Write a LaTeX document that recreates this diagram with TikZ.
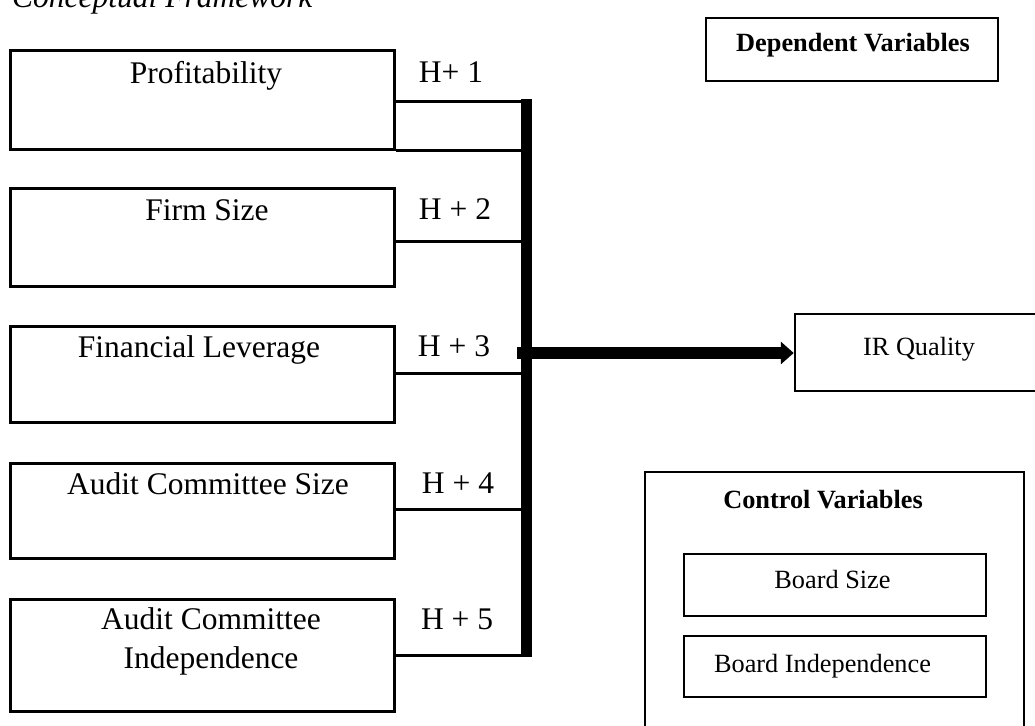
\documentclass[tikz,border=0pt]{standalone}
\usepackage{fontspec}
\setmainfont{Liberation Serif}
\usetikzlibrary{arrows.meta}
\begin{document}
\begin{tikzpicture}[x=1pt,y=-1pt,
  bigtxt/.style={inner sep=0pt, anchor=base, font=\fontsize{31.5}{39}\selectfont},
  smalltxt/.style={inner sep=0pt, anchor=base, font=\fontsize{26.3}{32}\selectfont},
  boldtxt/.style={smalltxt, font=\fontsize{26.3}{32}\selectfont\bfseries},
  varbox/.style={draw, line width=3pt, inner sep=0pt, minimum width=384pt},
  sidebox/.style={draw, line width=2.5pt, inner sep=0pt},
  link/.style={line width=3pt},
]
\useasboundingbox (0,0) rectangle (1035,725);
\clip (0,0) rectangle (1035,725);

% heading (runs off the top edge)
\node[bigtxt, anchor=base west, font=\fontsize{31.5}{39}\selectfont\itshape] (title) at (12,8) {Conceptual Framework};

% independent variables
\node[varbox, minimum height=98pt] (prof) at (202,100) {};
\node[varbox, minimum height=98pt] (firm) at (202,237) {};
\node[varbox, minimum height=96pt] (finl) at (202,374) {};
\node[varbox, minimum height=95pt] (acs)  at (202,510.5) {};
\node[varbox, minimum height=112pt] (aci) at (202,655) {};

\node[bigtxt] (profT) at (206,83) {Profitability};
\node[bigtxt] (firmT) at (207,220) {Firm Size};
\node[bigtxt] (finlT) at (199,357) {Financial Leverage};
\node[bigtxt] (acsT)  at (208,494) {Audit Committee Size};
\node[bigtxt] (aciT1) at (211,629) {Audit Committee};
\node[bigtxt] (aciT2) at (211,668) {Independence};

% hypothesis labels
\node[bigtxt] (h1) at (451,82)  {H+ 1};
\node[bigtxt] (h2) at (455,219) {H + 2};
\node[bigtxt] (h3) at (454,356) {H + 3};
\node[bigtxt] (h4) at (458,493) {H + 4};
\node[bigtxt] (h5) at (457,629) {H + 5};

% collecting bar
\node[fill=black, inner sep=0pt, minimum width=11pt, minimum height=558pt] (bar) at (526.5,378) {};

% connectors into the bar
\draw[link] (prof.east |- 0,101) -- (bar.west |- 0,101);
\draw[link] (prof.south east) -- (prof.south east -| bar.west);
\draw[link] (firm.east |- 0,241) -- (bar.west |- 0,241);
\draw[link] (finl.east |- 0,373) -- (bar.west |- 0,373);
\draw[link] (acs.east |- 0,509) -- (bar.west |- 0,509);
\draw[link] (aci.east |- 0,655) -- (bar.east |- 0,655);

% dependent variable
\node[sidebox, minimum width=250pt, minimum height=77pt] (ir) at (920,352.5) {};
\node[smalltxt] (irT) at (919,355) {IR Quality};
\coordinate (astart) at (517,353);
\draw[line width=12pt, -{Triangle[length=13pt,width=22pt]}] (astart) -- (astart -| ir.west);

\node[sidebox, minimum width=292pt, minimum height=63pt] (dep) at (852,49.5) {};
\node[boldtxt] (depT) at (853,52) {Dependent Variables};

% control variables
\node[sidebox, minimum width=379pt, minimum height=263pt] (ctrl) at (834.5,603.5) {};
\node[boldtxt] (ctrlT) at (823,508) {Control Variables};
\node[sidebox, minimum width=302pt, minimum height=62pt] (bsize) at (835,585) {};
\node[smalltxt] (bsizeT) at (832.5,588) {Board Size};
\node[sidebox, minimum width=302pt, minimum height=61pt] (bind) at (835,666.5) {};
\node[smalltxt] (bindT) at (822.5,672) {Board Independence};
\end{tikzpicture}
\end{document}
